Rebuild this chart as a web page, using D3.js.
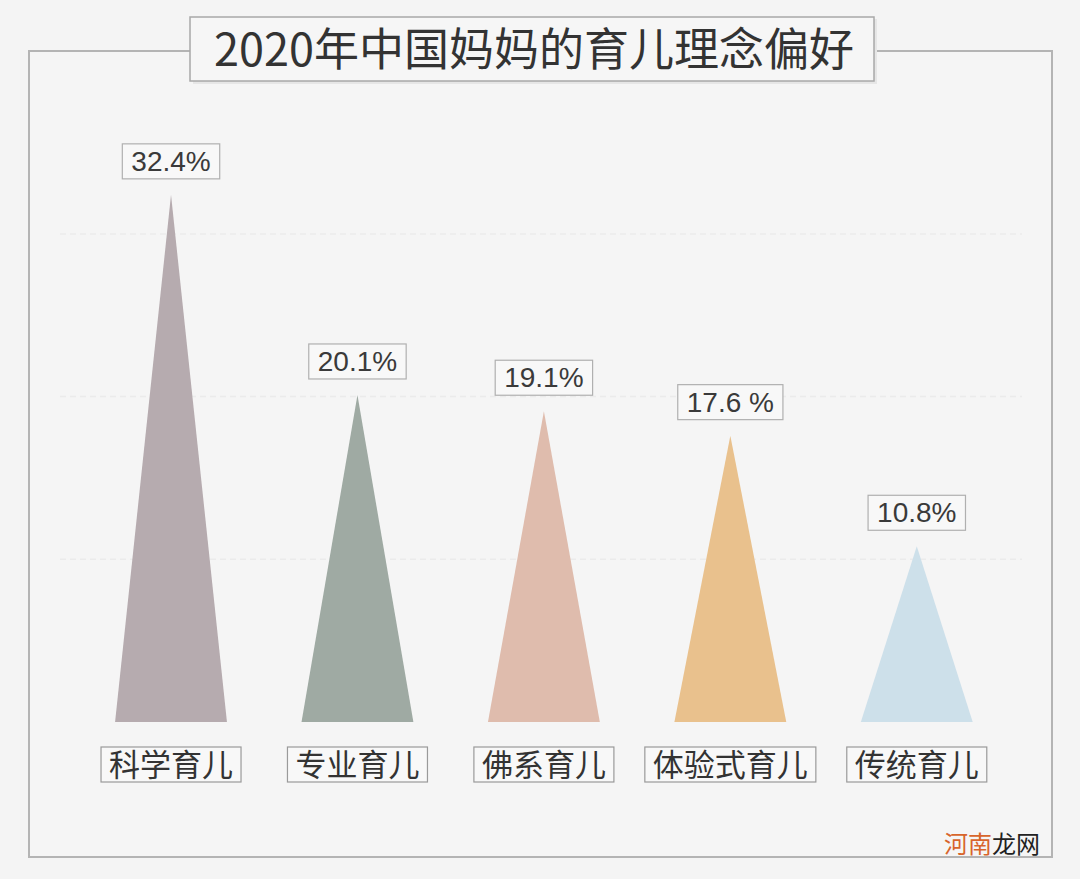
<!DOCTYPE html>
<html><head><meta charset="utf-8">
<script src="https://cdn.jsdelivr.net/npm/d3@7"></script>
<style>
html,body{margin:0;padding:0;background:#f4f4f4;}
svg{display:block;}
</style></head>
<body>
<script>
const title = "2020年中国妈妈的育儿理念偏好";
const categories = ["科学育儿","专业育儿","佛系育儿","体验式育儿","传统育儿"];
const values = [32.4, 20.1, 19.1, 17.6, 10.8];
const valueLabels = ["32.4%","20.1%","19.1%","17.6 %","10.8%"];
const colors = ["#b6abaf","#9faaa3","#dfbcad","#e9c18d","#cde0ea"];
const gridValues = [10, 20, 30];

const W = 1080, H = 879;
const svg = d3.select("body").append("svg").attr("width", W).attr("height", H);
svg.append("rect").attr("width", W).attr("height", H).attr("fill", "#f4f4f4");

const x = d3.scaleBand().domain(categories).range([77.8, 1010]).padding(0);
const y = d3.scaleLinear().domain([0, 40]).range([722, 71.2]);

// frame
svg.append("rect").attr("x", 29).attr("y", 51).attr("width", 1023).attr("height", 806)
  .attr("fill", "#f5f5f5").attr("stroke", "#b4b4b4").attr("stroke-width", 2);

// gridlines
svg.append("g").selectAll("line").data(gridValues).join("line")
  .attr("x1", 60).attr("x2", 1022)
  .attr("y1", d => y(d)).attr("y2", d => y(d))
  .attr("stroke", "#ebebeb").attr("stroke-width", 1.5).attr("stroke-dasharray", "6,4");

// triangles
const hw = x.bandwidth() * 0.3;
svg.append("g").selectAll("path").data(categories).join("path")
  .attr("d", (c, i) => {
    const cx = x(c) + x.bandwidth() / 2;
    return `M${cx - hw},${y(0)} L${cx},${y(values[i])} L${cx + hw},${y(0)} Z`;
  })
  .attr("fill", (c, i) => colors[i]);

// value labels
const vg = svg.append("g").selectAll("g").data(categories).join("g")
  .attr("transform", (c, i) => `translate(${x(c) + x.bandwidth() / 2},${y(values[i]) - 16})`);
vg.each(function(c, i) {
  const g = d3.select(this);
  const rect = g.append("rect");
  const t = g.append("text").text(valueLabels[i])
    .attr("text-anchor", "middle").attr("y", -8)
    .attr("font-family", "'Liberation Sans', Arial, sans-serif")
    .attr("font-size", 28).attr("fill", "#3a3a3a");
  const bb = t.node().getBBox();
  rect.attr("x", -bb.width / 2 - 9).attr("y", -35).attr("width", bb.width + 18).attr("height", 35)
    .attr("fill", "#f8f8f8").attr("stroke", "#b0b0b0").attr("stroke-width", 1.2);
});

// category labels
const cg = svg.append("g").selectAll("g").data(categories).join("g")
  .attr("transform", c => `translate(${x(c) + x.bandwidth() / 2},747)`);
cg.each(function(c) {
  const g = d3.select(this);
  const rect = g.append("rect");
  const t = g.append("text").text(c)
    .attr("text-anchor", "middle").attr("y", 29)
    .attr("font-family", "'Noto Sans CJK SC', sans-serif")
    .attr("font-size", 31).attr("fill", "#333");
  const bb = t.node().getBBox();
  rect.attr("x", -bb.width / 2 - 8).attr("y", 0).attr("width", bb.width + 16).attr("height", 35)
    .attr("fill", "#f8f8f8").attr("stroke", "#9a9a9a").attr("stroke-width", 1.2);
});

// title
const tg = svg.append("g").attr("transform", "translate(533,17)");
tg.append("rect").attr("x", -340).attr("y", 2).attr("width", 684).attr("height", 65)
  .attr("fill", "#e6e6e6");
tg.append("rect").attr("x", -343).attr("y", 0).attr("width", 684).attr("height", 64)
  .attr("fill", "#f6f6f6").attr("stroke", "#a8a8a8").attr("stroke-width", 1.5);
tg.append("text").text(title).attr("text-anchor", "middle").attr("x", 1).attr("y", 49)
  .attr("font-family", "'Noto Sans CJK SC', sans-serif").attr("font-size", 45)
  .attr("fill", "#333");

// watermark
const wm = svg.append("text").attr("x", 944).attr("y", 853)
  .attr("font-family", "'Noto Sans CJK SC', sans-serif").attr("font-size", 24);
wm.append("tspan").text("河南").attr("fill", "#d8652c");
wm.append("tspan").text("龙网").attr("fill", "#222");
</script>
</body></html>
